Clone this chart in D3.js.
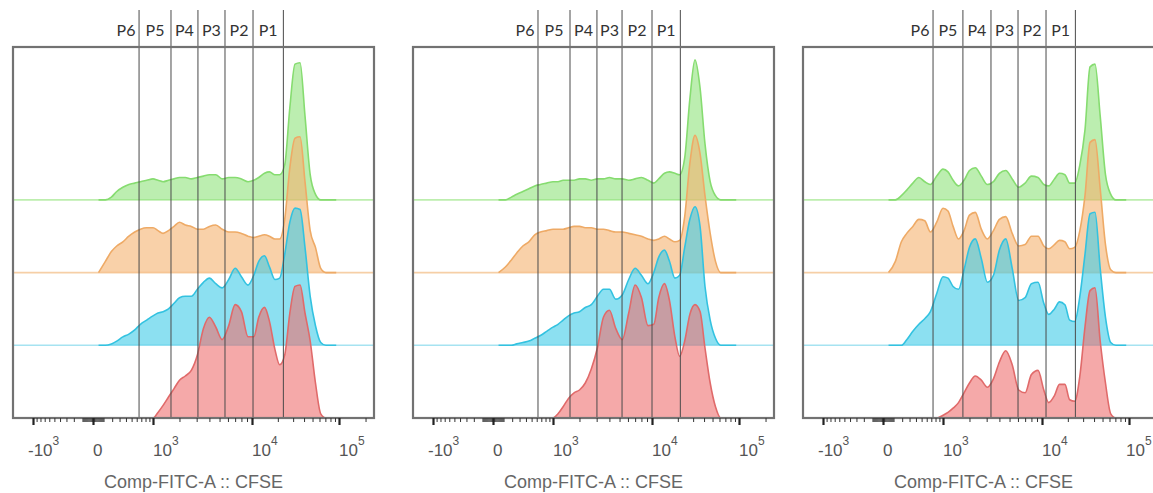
<!DOCTYPE html>
<html><head><meta charset="utf-8">
<script src="https://cdn.jsdelivr.net/npm/d3@7/dist/d3.min.js"></script>
<style>body{margin:0;background:#fff}svg{display:block}</style>
</head><body>
<svg id="chart" width="1153" height="493"></svg>
<script>
// ---- data (CFSE intensity bins, histogram heights as % of mode) ----
const bins = [50,120,190,260,350,450,560,680,830,1000,1150,1320,1520,1750,2000,2300,2650,3050,3500,4000,4600,5300,6100,7000,8000,9200,10500,12000,14000,16000,18500,21000,24000,27500,31500,36000,41000,47000,54000,62000,71000,81000,93000];
const seriesNames = ["Green","Orange","Blue","Red"];

const p1Green  = [0,0,2,6,9,11,12,13,14,15, 14,13,14,15,16,16,15,16,17,18, 18,15,16,16,15,13,14,16,19,20, 18,18,25,66,97,98,60,18,4,0, 0,0,0];
const p1Orange = [0,8,15,19,22,26,29,31,32,32, 30,28,30,33,36,34,33,31,31,33, 34,31,29,29,28,26,25,26,27,26, 24,24,38,75,96,97,65,30,18,3, 0,0,0];
const p1Blue   = [0,0,1,3,6,8,11,15,18,21, 23,24,26,30,34,35,35,40,45,48, 44,41,47,55,49,43,50,60,64,56, 47,48,65,88,98,97,70,35,14,2, 0,0,0];
const p1Red    = [0,0,0,0,0,0,0,0,0,0, 4,9,15,21,27,30,34,45,64,72, 65,56,66,81,76,58,58,72,79,69, 49,38,45,75,94,95,75,55,25,3, 0,0,0];

const p2Green  = [0,0,2,4,6,8,10,11,12,13, 13,14,14,14,15,15,14,15,15,16, 15,15,14,15,16,14,12,15,19,20, 19,18,30,72,100,80,40,13,3,0, 0,0,0];
const p2Orange = [0,4,9,14,19,22,27,29,30,31, 31,31,32,33,33,32,32,31,31,30, 29,29,28,27,26,24,23,24,26,24, 22,23,40,78,98,85,55,28,8,0, 0,0,0];
const p2Blue   = [0,0,0,1,2,3,5,7,10,13, 15,18,21,23,24,27,29,35,40,40, 33,36,47,55,50,44,52,63,68,60, 48,50,70,90,99,85,42,18,5,0, 0,0,0];
const p2Red    = [0,0,0,0,0,0,0,0,0,0, 3,8,14,18,20,25,35,50,72,77, 64,56,75,95,86,66,67,86,96,84, 58,44,55,74,81,76,50,25,8,0, 0,0,0];

const p3Green  = [0,0,3,7,12,16,13,11,17,22, 20,14,10,14,21,23,17,11,13,19, 21,15,9,12,17,16,11,10,15,19, 18,12,12,25,50,95,97,60,18,4, 0,0,0];
const p3Orange = [0,8,22,28,33,38,37,29,36,46, 44,33,24,30,41,43,31,24,30,38, 40,28,19,20,26,26,19,17,20,23, 22,17,18,30,55,93,95,60,20,2, 0,0,0];
const p3Blue   = [0,0,0,4,10,15,19,24,37,49, 48,42,40,54,70,76,62,45,50,68, 76,55,32,34,44,45,30,22,26,31, 29,18,17,35,65,94,95,55,20,2, 0,0,0];
const p3Red    = [0,0,0,0,0,0,0,0,0,2, 4,7,11,18,25,30,27,22,28,40, 48,38,20,18,31,34,20,11,16,24, 24,13,12,30,65,91,93,55,25,3, 0,0,0];

const p1Gates = [650,1620,3090,5630,10280,23160];
const p2Gates = [627,1580,3020,5280,10000,21370];
const p3Gates = [740,1700,3310,6010,11150,24440];
const gateLabels = ["P6","P5","P4","P3","P2","P1"];

const majorTicks = [-1000,0,1000,10000,100000];
const majorTickBase = ["-10","0","10","10","10"];
const majorTickExp  = ["3","","3","4","5"];
const minorTicks = [-900,-800,-700,-600,-500,-400,-300,-200,-100,-90,-80,-70,-60,-50,-40,-30,-20,-10,
  10,20,30,40,50,60,70,80,90,100,200,300,400,500,600,700,800,900,
  2000,3000,4000,5000,6000,7000,8000,9000,20000,30000,40000,50000,60000,70000,80000,90000,200000];
const axisTitle = "Comp-FITC-A :: CFSE";

const panels = [
  {series:[p1Green,p1Orange,p1Blue,p1Red], gates:p1Gates},
  {series:[p2Green,p2Orange,p2Blue,p2Red], gates:p2Gates},
  {series:[p3Green,p3Orange,p3Blue,p3Red], gates:p3Gates}
];

// ---- styles / layout ----
const fills   = ["#8fe27b","#f5b26f","#3fcbe8","#ee7070"];
const strokes = ["#86dc70","#eeaa66","#33c2e0","#e06a6a"];
const baseLineCol = ["#bdeeae","#f6cfa6","#a6e3f1"];
const panelLefts = [13,413,803];
const frameW = 361, frameTop = 47, frameBottom = 418;
const relRange = [20,80,140,239,326];
const peakH = 140, layerGap = 72.7;
const W = 1153;

const svg = d3.select("#chart");

panels.forEach((p, pi) => {
  const L = panelLefts[pi];
  const x = d3.scaleSymlog().constant(420).domain(majorTicks).range(relRange.map(r => L + r));
  const base = d3.scalePoint().domain(seriesNames).range([frameBottom - 3*layerGap, frameBottom]);
  const g = svg.append("g");

  seriesNames.slice(0,3).forEach((s, si) => {
    g.append("line").attr("x1", L).attr("x2", L + frameW)
      .attr("y1", base(s)).attr("y2", base(s))
      .attr("stroke", baseLineCol[si]).attr("stroke-width", 1.6);
  });

  p.series.forEach((vals, si) => {
    const b = base(seriesNames[si]);
    const y = d3.scaleLinear().domain([0,100]).range([b, b - peakH]);
    const pts = bins.map((v, k) => [v, vals[k]]);
    const area = d3.area().x(d => x(d[0])).y0(b).y1(d => y(d[1])).curve(d3.curveMonotoneX);
    const line = d3.line().x(d => x(d[0])).y(d => y(d[1])).curve(d3.curveMonotoneX);
    g.append("path").attr("d", area(pts)).attr("fill", fills[si]).attr("fill-opacity", 0.6);
    g.append("path").attr("d", line(pts)).attr("fill", "none")
      .attr("stroke", strokes[si]).attr("stroke-width", 1.6);
  });

  p.gates.forEach(v => {
    g.append("line").attr("x1", x(v)).attr("x2", x(v)).attr("y1", 10).attr("y2", frameBottom)
      .attr("stroke", "#4a4a4a").attr("stroke-width", 1);
  });
  gateLabels.forEach((lab, k) => {
    const cx = k === 0 ? x(p.gates[0]) - 13 : (x(p.gates[k-1]) + x(p.gates[k])) / 2;
    g.append("text").attr("x", cx).attr("y", 36).attr("text-anchor", "middle")
      .attr("font-family", "Lato, 'Liberation Sans', sans-serif").attr("font-size", 16)
      .attr("fill", "#333").text(lab);
  });

  g.append("rect").attr("x", L).attr("y", frameTop).attr("width", frameW)
    .attr("height", frameBottom - frameTop).attr("fill", "none")
    .attr("stroke", "#727272").attr("stroke-width", 2.2);

  const minorVis = minorTicks.filter(v => x(v) < L + frameW);
  g.append("g").attr("transform", `translate(0,${frameBottom})`)
    .call(d3.axisBottom(x).tickValues(minorVis).tickSize(4).tickFormat(() => ""))
    .call(a => a.select(".domain").remove())
    .call(a => a.selectAll(".tick line").attr("stroke", "#333").attr("stroke-width", 1));
  g.append("g").attr("transform", `translate(0,${frameBottom})`)
    .call(d3.axisBottom(x).tickValues(majorTicks).tickSize(7).tickFormat(() => ""))
    .call(a => a.select(".domain").remove())
    .call(a => a.selectAll(".tick line").attr("stroke", "#222").attr("stroke-width", 2.2));

  majorTicks.forEach((v, k) => {
    const t = g.append("text").attr("x", x(v) + (v < 0 ? -5 : 0)).attr("y", 456)
      .attr("font-family", "'Liberation Sans', Arial, sans-serif").attr("font-size", 17)
      .attr("fill", "#555");
    t.append("tspan").text(majorTickBase[k]);
    if (majorTickExp[k]) t.append("tspan").attr("dy", -11).attr("font-size", 12).text(majorTickExp[k]);
    const bb = t.node().getBBox();
    if (bb.x + bb.width > W - 1) t.attr("x", +t.attr("x") - (bb.x + bb.width - (W - 1)));
  });

  g.append("text").attr("x", L + frameW/2).attr("y", 488).attr("text-anchor", "middle")
    .attr("font-family", "'Liberation Sans', Arial, sans-serif").attr("font-size", 18)
    .attr("fill", "#666").text(axisTitle);
});
</script>
</body></html>
